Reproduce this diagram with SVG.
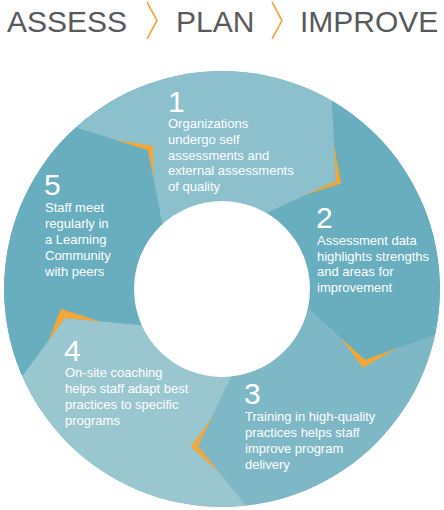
<svg xmlns="http://www.w3.org/2000/svg" width="444" height="510" viewBox="0 0 444 510">
<style>
.title{font-family:"Liberation Sans",Arial,sans-serif;font-size:30px;fill:#58595b}
.chev{fill:none;stroke:#f5a631;stroke-width:1.6;stroke-linejoin:miter}
.num{font-family:"Liberation Sans",Arial,sans-serif;font-size:30px;fill:#ffffff}
.txt{font-family:"Liberation Sans",Arial,sans-serif;font-size:13px;fill:#ffffff}
.s1{fill:#8cc0cc}.s2{fill:#68aebe}.s3{fill:#7eb7c5}.s4{fill:#9ac6d0}.s5{fill:#68aebe}
.or{fill:#f6a632}
</style>
<defs>
<clipPath id="ring"><circle cx="222" cy="289" r="218"/></clipPath>
</defs>
<rect width="444" height="510" fill="#ffffff"/>
<g id="title">
<text class="title" x="7" y="32">ASSESS</text>
<polyline class="chev" points="147,2 157,20.5 147,39"/>
<text class="title" x="176" y="32">PLAN</text>
<polyline class="chev" points="272,2 282,20.5 272,39"/>
<text class="title" x="300" y="32">IMPROVE</text>
</g>
<g clip-path="url(#ring)">
<circle cx="222" cy="289" r="218" fill="#7eb7c5"/>
<g id="step1">
<polygon class="s1" points="222,289 162,223 148,150 77,128 34.7,80.9 190,-29.4 364.1,47.8 332,102 336,181 269,212"/>
</g>
<g id="step2">
<polygon class="s2" points="222,289 269,212 336,181 332,102 364.1,47.8 515.1,160.7 495.7,348.2 435,335 365,360 310,310"/>
</g>
<g id="step3">
<polygon class="s3" points="222,289 310,310 365,360 435,335 495.7,348.2 436.7,526.3 253.7,567.2 247,507 198,446 231,377"/>
</g>
<g id="step4">
<polygon class="s4" points="222,289 231,377 198,446 247,507 253.7,567.2 61.7,566 -35,400.2 23,375 65,318 140,325"/>
</g>
<g id="step5">
<polygon class="s5" points="222,289 140,325 65,318 23,375 -35,400.2 -90.6,220.8 34.7,80.9 77,128 148,150 162,223"/>
</g>
<g id="connectors">
<polygon class="or" points="114,139.5 153,146 153.4,178 148,150"/>
<polygon class="or" points="333.6,143 341,183.5 303,195.5 336,181"/>
<polygon class="or" points="398.5,347.5 363,367.5 339.8,337 365,360"/>
<polygon class="or" points="220,473 191,447 212.5,416.5 198,446"/>
<polygon class="or" points="48.4,340.5 61,309 100,321.5 65,318"/>
</g>
</g>
<circle cx="222" cy="289" r="88" fill="#ffffff"/>
<g id="labels1">
<text class="num" x="168" y="112">1</text>
<text class="txt" x="168" y="128">Organizations</text>
<text class="txt" x="168" y="143.8">undergo self</text>
<text class="txt" x="168" y="159.6">assessments and</text>
<text class="txt" x="168" y="175.4">external assessments</text>
<text class="txt" x="168" y="191.2">of quality</text>
</g>
<g id="labels2">
<text class="num" x="316" y="228">2</text>
<text class="txt" x="317" y="245">Assessment data</text>
<text class="txt" x="317" y="260.6">highlights strengths</text>
<text class="txt" x="317" y="276.2">and areas for</text>
<text class="txt" x="317" y="291.8">improvement</text>
</g>
<g id="labels3">
<text class="num" x="244" y="404">3</text>
<text class="txt" x="245" y="421">Training in high-quality</text>
<text class="txt" x="245" y="437">practices helps staff</text>
<text class="txt" x="245" y="453">improve program</text>
<text class="txt" x="245" y="469">delivery</text>
</g>
<g id="labels4">
<text class="num" x="64" y="361">4</text>
<text class="txt" x="65" y="377">On-site coaching</text>
<text class="txt" x="65" y="393">helps staff adapt best</text>
<text class="txt" x="65" y="409">practices to specific</text>
<text class="txt" x="65" y="425">programs</text>
</g>
<g id="labels5">
<text class="num" x="44" y="195">5</text>
<text class="txt" x="45" y="212">Staff meet</text>
<text class="txt" x="45" y="228">regularly in</text>
<text class="txt" x="45" y="244">a Learning</text>
<text class="txt" x="45" y="260">Community</text>
<text class="txt" x="45" y="276">with peers</text>
</g>
</svg>
